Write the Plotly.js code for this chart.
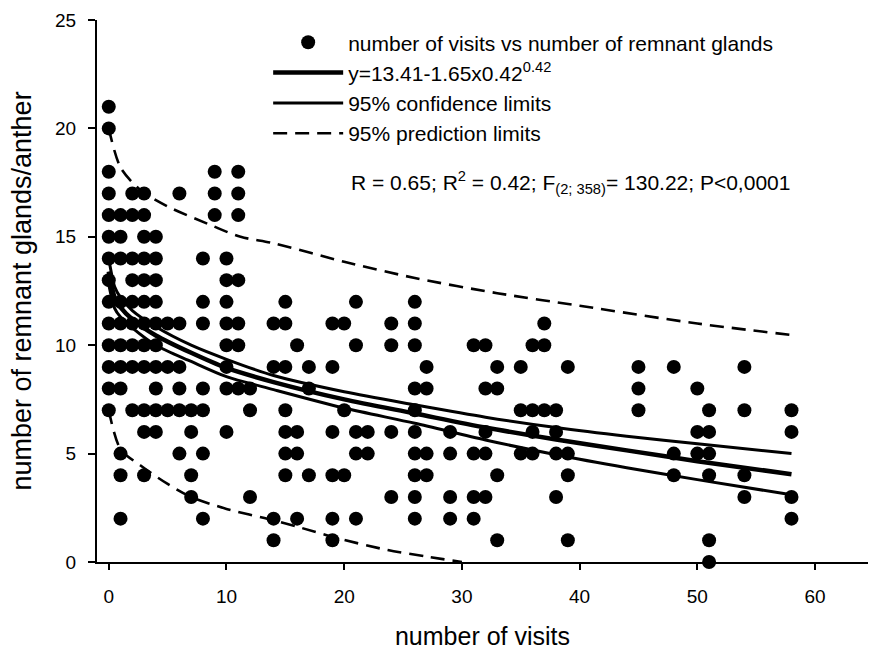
<!DOCTYPE html>
<html>
<head>
<meta charset="utf-8">
<script src="https://cdn.plot.ly/plotly-3.0.1.min.js"></script>
<style>html,body{margin:0;padding:0;background:#fff;}#chart{width:869px;height:650px;}</style>
</head>
<body>
<div id="chart"></div>
<script>
// Observations: number of visits (x) vs number of remnant glands per anther (y)
const visits = [
  0,0,0,0,0,0,0,0,0,0,0,0,0,0,
  1,1,1,1,1,1,1,1,1,1,1,
  2,2,2,2,2,2,2,2,2,
  3,3,3,3,3,3,3,3,3,3,3,3,
  4,4,4,4,4,4,4,4,4,4,
  5,5,5,
  6,6,6,6,6,6,
  7,7,7,7,
  8,8,8,8,8,8,8,
  9,9,9,
  10,10,10,10,10,10,10,10,
  11,11,11,11,11,11,11,
  12,12,12,
  14,14,14,14,
  15,15,15,15,15,15,15,
  16,16,16,16,
  17,17,17,
  19,19,19,19,19,19,
  20,20,20,
  21,21,21,21,21,
  22,22,
  24,24,24,24,
  26,26,26,26,26,26,26,26,26,26,
  27,27,27,27,
  29,29,29,29,
  31,31,31,31,
  32,32,32,32,32,
  33,33,33,33,
  35,35,35,
  36,36,36,36,
  37,37,37,
  38,38,38,38,
  39,39,39,39,
  45,45,45,
  48,48,48,
  50,50,50,
  51,51,51,51,51,51,
  54,54,54,54,
  58,58,58,58
];
const glands = [
  21,20,18,17,16,15,14,13,12,11,10,9,8,7,
  16,15,14,12,11,10,9,8,5,4,2,
  17,16,14,13,12,11,10,9,7,
  17,16,15,14,13,12,11,10,9,7,6,4,
  15,14,13,12,11,10,9,8,7,6,
  11,9,7,
  17,11,9,8,7,5,
  7,6,4,3,
  14,12,11,8,7,5,2,
  18,17,16,
  14,13,12,11,10,9,8,6,
  18,17,16,13,11,10,8,
  8,7,3,
  11,9,2,1,
  12,11,9,7,6,5,4,
  10,6,5,2,
  9,8,4,
  11,9,6,4,2,1,
  11,7,4,
  12,10,6,5,2,
  6,5,
  11,10,6,3,
  12,11,10,8,7,6,5,4,3,2,
  9,8,5,4,
  6,5,3,2,
  10,5,3,2,
  10,8,6,5,3,
  9,8,4,1,
  9,7,5,
  10,7,6,5,
  11,10,7,
  7,6,5,3,
  9,5,4,1,
  9,8,7,
  9,5,4,
  8,6,5,
  7,6,5,4,1,0,
  9,7,4,3,
  7,6,3,2
];

// Regression curve and 95% confidence limits
const fitX     = [0, 0.5, 1, 2, 4, 7, 10, 14, 20, 26, 32, 38, 44, 50, 58];
const fitY     = [13.4, 12.2, 11.75, 11.2, 10.45, 9.65, 8.95, 8.3, 7.5, 6.85, 6.2, 5.65, 5.15, 4.65, 4.05];
const ciUpperY = [14.0, 12.7, 12.2, 11.6, 10.85, 10.0, 9.35, 8.6, 7.85, 7.25, 6.68, 6.2, 5.8, 5.45, 5.0];
const ciLowerY = [12.8, 11.7, 11.3, 10.8, 10.0, 9.25, 8.55, 7.95, 7.1, 6.4, 5.63, 4.95, 4.35, 3.8, 3.1];

// 95% prediction limits
const piUpperX = [0, 1, 2.7, 5, 8.4, 11.2, 14, 20, 26, 33, 40, 50, 58];
const piUpperY = [20.0, 18.2, 17.15, 16.4, 15.6, 15.0, 14.7, 13.85, 13.1, 12.4, 11.82, 11.0, 10.47];
const piLowerX = [0, 1, 2.7, 5, 7, 10, 14, 16, 19.4, 23.7, 27, 30];
const piLowerY = [7.0, 5.2, 4.45, 3.6, 3.0, 2.45, 1.92, 1.63, 1.1, 0.55, 0.25, 0];

const xTicks = [0, 10, 20, 30, 40, 50, 60];
const yTicks = [0, 5, 10, 15, 20, 25];

const FONT = 'Liberation Sans, Arial, Helvetica, sans-serif';

const traces = [
  {x: visits, y: glands, type: 'scatter', mode: 'markers', cliponaxis: false,
   name: 'number of visits vs number of remnant glands',
   marker: {color: '#000', size: 14, line: {width: 0}}},
  {x: fitX, y: fitY, type: 'scatter', mode: 'lines', name: 'y=13.41-1.65x0.42<sup>0.42</sup>',
   line: {color: '#000', width: 4.5, shape: 'spline', smoothing: 0.8}},
  {x: fitX, y: ciUpperY, type: 'scatter', mode: 'lines', name: '95% confidence limits',
   legendgroup: 'ci', line: {color: '#000', width: 3, shape: 'spline', smoothing: 0.8}},
  {x: fitX, y: ciLowerY, type: 'scatter', mode: 'lines', name: '95% confidence limits',
   legendgroup: 'ci', showlegend: false, line: {color: '#000', width: 3, shape: 'spline', smoothing: 0.8}},
  {x: piUpperX, y: piUpperY, type: 'scatter', mode: 'lines', name: '95% prediction limits',
   legendgroup: 'pi', line: {color: '#000', width: 2.6, dash: '14px,8px', shape: 'spline', smoothing: 0.8}},
  {x: piLowerX, y: piLowerY, type: 'scatter', mode: 'lines', name: '95% prediction limits',
   legendgroup: 'pi', showlegend: false, line: {color: '#000', width: 2.6, dash: '14px,8px', shape: 'spline', smoothing: 0.8}}
];

const layout = {
  width: 869, height: 650,
  margin: {l: 97, r: 1, t: 20, b: 88},
  paper_bgcolor: '#fff', plot_bgcolor: '#fff',
  font: {family: FONT, color: '#000'},
  showlegend: true,
  legend: {x: 0.222, y: 0.996, xanchor: 'left', yanchor: 'top', bgcolor: 'rgba(0,0,0,0)',
           font: {size: 21, family: FONT, color: '#000'}, itemwidth: 70, traceorder: 'normal',
           tracegroupgap: 0},
  xaxis: {range: [-1, 64.5], tickvals: xTicks, ticktext: xTicks.map(String),
          ticks: 'outside', ticklen: 6, tickwidth: 2, tickcolor: '#000',
          showline: true, linewidth: 2, linecolor: '#000', zeroline: false, showgrid: false,
          tickfont: {size: 19, family: FONT}, ticklabelstandoff: 10,
          title: {text: 'number of visits', font: {size: 25, family: FONT}, standoff: 22},
          automargin: false, fixedrange: true},
  yaxis: {range: [0, 25], tickvals: yTicks, ticktext: yTicks.map(String),
          ticks: 'outside', ticklen: 7, tickwidth: 2, tickcolor: '#000',
          showline: true, linewidth: 2, linecolor: '#000', zeroline: false, showgrid: false,
          tickfont: {size: 19, family: FONT}, ticklabelstandoff: 8,
          title: {text: 'number of remnant glands/anther', font: {size: 27, family: FONT}, standoff: 16},
          automargin: false, fixedrange: true},
  annotations: [
    {xref: 'paper', yref: 'paper', x: 0.3268, y: 0.701, xanchor: 'left', yanchor: 'middle',
     showarrow: false, font: {size: 21, family: FONT, color: '#000'},
     text: 'R = 0.65; R<sup>2</sup> = 0.42; F<sub>(2; 358)</sub>= 130.22; P&lt;0,0001'}
  ]
};

Plotly.newPlot('chart', traces, layout, {displayModeBar: false, staticPlot: true});
</script>
</body>
</html>
